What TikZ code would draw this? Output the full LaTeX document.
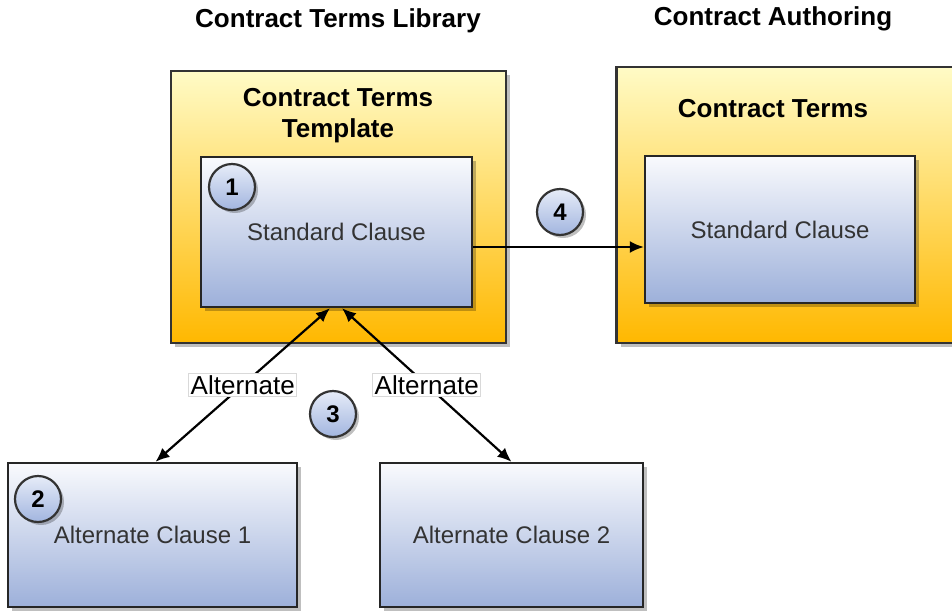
\documentclass[tikz,border=0pt]{standalone}
\usepackage{fontspec}
\setmainfont{Liberation Sans}
\usetikzlibrary{arrows.meta,shadows}

\definecolor{areatop}{HTML}{FFFBC6}
\definecolor{areabot}{HTML}{FFB800}
\definecolor{clausetop}{HTML}{F9FAFD}
\definecolor{clausebot}{HTML}{9DB0DA}
\definecolor{numtop}{HTML}{E6ECF8}
\definecolor{numbot}{HTML}{A2B5DF}

\tikzset{
    area/.style     = {draw = black!80, line width = 1.2pt, top color = areatop, bottom color = areabot,
                       drop shadow = {shadow xshift = 2pt, shadow yshift = -2pt, opacity = .25, fill = black}},
    clause/.style   = {draw = black!85, line width = 1.2pt, top color = clausetop, bottom color = clausebot,
                       font = \fontsize{12}{14}\selectfont, text = black!80,
                       drop shadow = {shadow xshift = 2pt, shadow yshift = -2pt, opacity = .25, fill = black}},
    num/.style      = {circle, draw = black!80, line width = 1.1pt, minimum size = 23pt, inner sep = 0pt,
                       top color = numtop, bottom color = numbot, font = \fontsize{12}{14}\selectfont\bfseries,
                       drop shadow = {shadow xshift = 1.5pt, shadow yshift = -1.5pt, opacity = .25, fill = black}},
    heading/.style  = {font = \fontsize{13}{15.5}\selectfont\bfseries, align = center},
    tag/.style      = {fill = white, draw = black!15, line width = .4pt, inner sep = 1pt,
                       font = \fontsize{13}{15}\selectfont},
    link/.style     = {line width = 1.1pt, {Latex[length = 7pt, width = 6pt]}-{Latex[length = 7pt, width = 6pt]}},
    onelink/.style  = {line width = 1.1pt, -{Latex[length = 7pt, width = 6pt]}}
}

\begin{document}
\begin{tikzpicture}[x = .5pt, y = -.5pt]
                \clip (0,0) rectangle (952,611);

                \node [heading]                                          (libtitle)  at (338,21)    {Contract Terms Library};
                \node [heading]                                          (authtitle) at (773,19)    {Contract Authoring};

                \node [area, minimum width = 167.5pt, minimum height = 136pt]  (lib)   at (338.5,207) {};
                \node [area, minimum width = 170pt,   minimum height = 138pt]  (auth)  at (786.5,205) {};

                \node [heading]                                          (tpltitle)  at (338,116)   {Contract Terms\\Template};
                \node [heading]                                          (termtitle) at (773,109)   {Contract Terms};

                \node [clause, minimum width = 135.5pt, minimum height = 75pt]   (std)   at (336.5,232) {Standard Clause};
                \node [clause, minimum width = 135pt,   minimum height = 73.5pt] (std2)  at (780,229.5) {Standard Clause};
                \node [clause, minimum width = 144.5pt, minimum height = 72pt]   (alt1)  at (152.5,535) {Alternate Clause 1};
                \node [clause, minimum width = 131.5pt, minimum height = 72pt]   (alt2)  at (511.5,535) {Alternate Clause 2};

                \draw [onelink] ([yshift = -7.5pt]std.east) -- ([yshift = -7.5pt]std.east -| std2.west);

                \draw [link] ([xshift = 1.5pt]alt1.north) -- node [tag] (alttag1) {Alternate} ([xshift = -3.25pt]std.south);
                \draw [link] (alt2.north)                 -- node [tag] (alttag2) {Alternate} ([xshift = 2.75pt]std.south);

                \node [num] (n1) at (232,187) {1};
                \node [num] (n2) at (38,499)  {2};
                \node [num] (n3) at (333,414) {3};
                \node [num] (n4) at (560,212) {4};
            \end{tikzpicture}
\end{document}
